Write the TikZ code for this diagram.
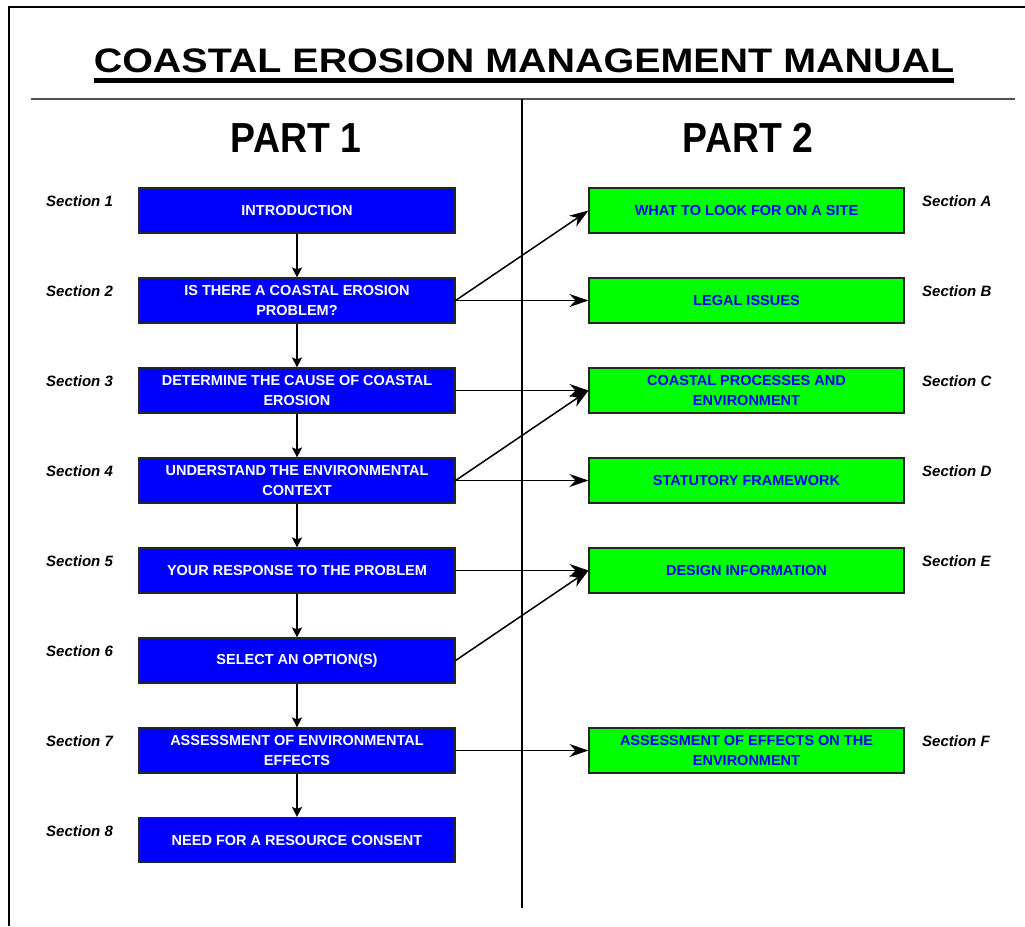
\documentclass[tikz,border=0pt]{standalone}
\usepackage{fontspec}
\setmainfont{Liberation Sans}
\usetikzlibrary{arrows.meta}
\definecolor{boxblue}{RGB}{0,0,255}
\definecolor{boxgreen}{RGB}{0,255,0}
\definecolor{rulegray}{RGB}{80,80,80}
\begin{document}
\begin{tikzpicture}[x=1pt,y=-1pt,
  bluebox/.style={draw=black!85, line width=1.1pt, fill=boxblue, minimum width=316pt, minimum height=45pt,
    text=white, font=\bfseries\fontsize{14.5}{20}\selectfont, align=center, inner sep=0pt},
  greenbox/.style={draw=black!85, line width=1.1pt, fill=boxgreen, minimum width=315pt, minimum height=45pt,
    text=boxblue, font=\bfseries\fontsize{14.5}{20}\selectfont, align=center, inner sep=0pt},
  seclabel/.style={font=\bfseries\itshape\fontsize{15}{18}\selectfont, anchor=west, inner sep=0pt},
  parthead/.style={font=\bfseries\fontsize{42}{48}\selectfont, anchor=base, inner sep=0pt},
  conn/.style={line width=1.5pt, -{Stealth[length=19pt,width=13pt,inset=6pt]}},
  vconn/.style={line width=1.4pt, -{Stealth[length=10pt,width=10pt,inset=2pt]}}
]
\useasboundingbox (0,0) rectangle (1025,926);
% frame
\draw[line width=2pt] (9,926) -- (9,7) -- (1025,7);
% title
\node[anchor=base, inner sep=0pt, font=\bfseries\fontsize{34}{40}\selectfont] (title) at (524,72)
  {\scalebox{1.16}[1]{COASTAL EROSION MANAGEMENT MANUAL}};
\draw[line width=4.5pt] ([yshift=-8.5pt]title.base west) -- ([yshift=-8.5pt]title.base east);
% rules
\coordinate (rl) at (31,99);
\coordinate (rr) at (1015,99);
\draw[line width=1.8pt, rulegray] (rl) -- (rr);
\coordinate (vt) at (522,99);
\coordinate (vb) at (522,908);
\draw[line width=2pt] (vt) -- (vb);
% part headings
\node[parthead] (p1) at (296,152) {\scalebox{0.89}[1]{PART 1}};
\node[parthead] (p2) at (748,152) {\scalebox{0.89}[1]{PART 2}};
% left boxes
\node[bluebox] (b1) at (297,210.5) {INTRODUCTION};
\node[bluebox] (b2) at (297,300.5) {IS THERE A COASTAL EROSION\\PROBLEM?};
\node[bluebox] (b3) at (297,390.5) {DETERMINE THE CAUSE OF COASTAL\\EROSION};
\node[bluebox] (b4) at (297,480.5) {UNDERSTAND THE ENVIRONMENTAL\\CONTEXT};
\node[bluebox] (b5) at (297,570.5) {YOUR RESPONSE TO THE PROBLEM};
\node[bluebox] (b6) at (297,660.5) {SELECT AN OPTION(S)};
\node[bluebox] (b7) at (297,750.5) {ASSESSMENT OF ENVIRONMENTAL\\EFFECTS};
\node[bluebox] (b8) at (297,840) {NEED FOR A RESOURCE CONSENT};
% right boxes
\node[greenbox] (gA) at (746.5,210.5) {WHAT TO LOOK FOR ON A SITE};
\node[greenbox] (gB) at (746.5,300.5) {LEGAL ISSUES};
\node[greenbox] (gC) at (746.5,390.5) {COASTAL PROCESSES AND\\ENVIRONMENT};
\node[greenbox] (gD) at (746.5,480.5) {STATUTORY FRAMEWORK};
\node[greenbox] (gE) at (746.5,570.5) {DESIGN INFORMATION};
\node[greenbox] (gF) at (746.5,750.5) {ASSESSMENT OF EFFECTS ON THE\\ENVIRONMENT};
% section labels
\node[seclabel] (s1) at (46,201) {Section 1};
\node[seclabel] (s2) at (46,291) {Section 2};
\node[seclabel] (s3) at (46,381) {Section 3};
\node[seclabel] (s4) at (46,471) {Section 4};
\node[seclabel] (s5) at (46,561) {Section 5};
\node[seclabel] (s6) at (46,651) {Section 6};
\node[seclabel] (s7) at (46,741) {Section 7};
\node[seclabel] (s8) at (46,831) {Section 8};
\node[seclabel] (sA) at (922,201) {Section A};
\node[seclabel] (sB) at (922,291) {Section B};
\node[seclabel] (sC) at (922,381) {Section C};
\node[seclabel] (sD) at (922,471) {Section D};
\node[seclabel] (sE) at (922,561) {Section E};
\node[seclabel] (sF) at (922,741) {Section F};
% vertical connectors
\foreach \a/\b in {b1/b2,b2/b3,b3/b4,b4/b5,b5/b6,b6/b7,b7/b8}
  \draw[vconn] (\a.south) -- (\b.north);
% cross connectors
\draw[conn] (b2.east) -- (gA.west);
\draw[conn] (b2.east) -- (gB.west);
\draw[conn] (b3.east) -- (gC.west);
\draw[conn] (b4.east) -- (gC.west);
\draw[conn] (b4.east) -- (gD.west);
\draw[conn] (b5.east) -- (gE.west);
\draw[conn] (b6.east) -- (gE.west);
\draw[conn] (b7.east) -- (gF.west);
\end{tikzpicture}
\end{document}
